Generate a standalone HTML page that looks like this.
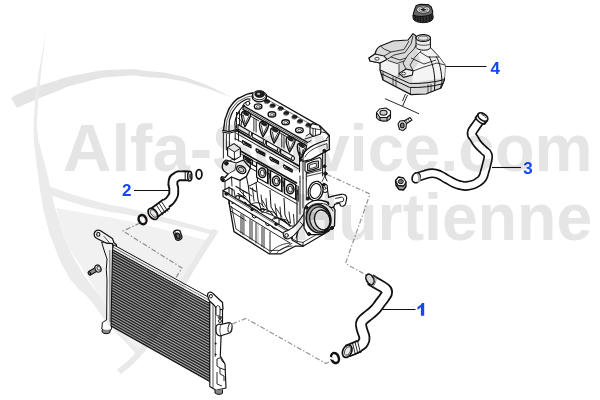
<!DOCTYPE html>
<html><head><meta charset="utf-8"><title>Cooling system diagram</title>
<style>html,body{margin:0;padding:0;background:#fff;}body{width:600px;height:400px;position:relative;overflow:hidden;font-family:"Liberation Sans",sans-serif;}</style>
</head><body>
<svg width="600" height="400" viewBox="0 0 600 400" style="position:absolute;left:0;top:0">
<g fill="none" stroke="#969696" stroke-width="1.2" stroke-dasharray="5 2 1.5 2">
<path d="M140,223 L123,231 L182,268 L175,279"/>
<path d="M232,324 L246,318.5 L326,363.5 L331,361"/>
<path d="M327,174.5 L370,194 L345.5,263.5 L366,275"/>
</g>
<g id="radiator" stroke-linejoin="round">
<path d="M101.6,242 L104,250 L107,259 L106.3,269.5 L107,280 L106.6,320 L102.4,322.5 L101.8,329 L105,331 L111,330 L112,326 L113,249 L113.6,243 Z" fill="#fff" stroke="#111" stroke-width="1"/>
<path d="M109.8,250 L110,322" stroke="#111" stroke-width="0.6" fill="none"/>
<path d="M94.3,235.6 C93.4,231.6 97,229 100.2,230.5 L112.4,238.4 L114,242.8 L116.4,244.8 L116.4,247 L113,249 L112.6,243.6 L106.5,243.2 L97.4,238.8 C95.5,237.8 94.6,236.8 94.3,235.6 Z" fill="#fff" stroke="#111" stroke-width="1.2"/>
<ellipse cx="98.3" cy="234.4" rx="1.6" ry="1.9" fill="#fff" stroke="#111" stroke-width="1.1"/>
<path d="M103.8,236.2 L109.4,242.6 M106.5,243.2 L112.6,243.6" stroke="#111" stroke-width="0.7" fill="none"/>
<path d="M102.2,329.5 L102.2,332.3 C104,334 108,334.3 110,332.5 L110,330" fill="#888" stroke="#111" stroke-width="1"/>
<clipPath id="corecp"><path d="M112.5,249.5 L209.5,303.0 L209.8,381.5 L111.0,326.0 Z"/></clipPath>
<path d="M112.5,249.5 L209.5,303.0 L209.8,381.5 L111.0,326.0 Z" fill="#939393"/>
<g clip-path="url(#corecp)" stroke-linecap="butt">
<path d="M112.5,249.50 L209.5,303.00" stroke="#262626" stroke-width="1.4"/>
<path d="M112.5,250.87 L209.5,304.40" stroke="#bdbdbd" stroke-width="0.6"/>
<path d="M112.4,252.23 L209.5,305.80" stroke="#262626" stroke-width="1.4"/>
<path d="M112.4,253.60 L209.5,307.21" stroke="#d0d0d0" stroke-width="0.6"/>
<path d="M112.4,254.96 L209.5,308.61" stroke="#262626" stroke-width="1.4"/>
<path d="M112.4,256.33 L209.5,310.01" stroke="#bdbdbd" stroke-width="0.6"/>
<path d="M112.3,257.70 L209.5,311.41" stroke="#262626" stroke-width="1.4"/>
<path d="M112.3,259.06 L209.5,312.81" stroke="#bdbdbd" stroke-width="0.6"/>
<path d="M112.3,260.43 L209.5,314.21" stroke="#262626" stroke-width="1.4"/>
<path d="M112.3,261.79 L209.5,315.62" stroke="#bdbdbd" stroke-width="0.6"/>
<path d="M112.2,263.16 L209.6,317.02" stroke="#262626" stroke-width="1.4"/>
<path d="M112.2,264.53 L209.6,318.42" stroke="#d0d0d0" stroke-width="0.6"/>
<path d="M112.2,265.89 L209.6,319.82" stroke="#262626" stroke-width="1.4"/>
<path d="M112.2,267.26 L209.6,321.22" stroke="#bdbdbd" stroke-width="0.6"/>
<path d="M112.1,268.62 L209.6,322.62" stroke="#262626" stroke-width="1.4"/>
<path d="M112.1,269.99 L209.6,324.03" stroke="#bdbdbd" stroke-width="0.6"/>
<path d="M112.1,271.36 L209.6,325.43" stroke="#262626" stroke-width="1.4"/>
<path d="M112.0,272.72 L209.6,326.83" stroke="#bdbdbd" stroke-width="0.6"/>
<path d="M112.0,274.09 L209.6,328.23" stroke="#262626" stroke-width="1.4"/>
<path d="M112.0,275.46 L209.6,329.63" stroke="#d0d0d0" stroke-width="0.6"/>
<path d="M112.0,276.82 L209.6,331.04" stroke="#262626" stroke-width="1.4"/>
<path d="M111.9,278.19 L209.6,332.44" stroke="#bdbdbd" stroke-width="0.6"/>
<path d="M111.9,279.55 L209.6,333.84" stroke="#262626" stroke-width="1.4"/>
<path d="M111.9,280.92 L209.6,335.24" stroke="#bdbdbd" stroke-width="0.6"/>
<path d="M111.9,282.29 L209.6,336.64" stroke="#262626" stroke-width="1.4"/>
<path d="M111.8,283.65 L209.6,338.04" stroke="#bdbdbd" stroke-width="0.6"/>
<path d="M111.8,285.02 L209.6,339.45" stroke="#262626" stroke-width="1.4"/>
<path d="M111.8,286.38 L209.6,340.85" stroke="#d0d0d0" stroke-width="0.6"/>
<path d="M111.8,287.75 L209.7,342.25" stroke="#262626" stroke-width="1.4"/>
<path d="M111.7,289.12 L209.7,343.65" stroke="#bdbdbd" stroke-width="0.6"/>
<path d="M111.7,290.48 L209.7,345.05" stroke="#262626" stroke-width="1.4"/>
<path d="M111.7,291.85 L209.7,346.46" stroke="#bdbdbd" stroke-width="0.6"/>
<path d="M111.6,293.21 L209.7,347.86" stroke="#262626" stroke-width="1.4"/>
<path d="M111.6,294.58 L209.7,349.26" stroke="#bdbdbd" stroke-width="0.6"/>
<path d="M111.6,295.95 L209.7,350.66" stroke="#262626" stroke-width="1.4"/>
<path d="M111.6,297.31 L209.7,352.06" stroke="#d0d0d0" stroke-width="0.6"/>
<path d="M111.5,298.68 L209.7,353.46" stroke="#262626" stroke-width="1.4"/>
<path d="M111.5,300.04 L209.7,354.87" stroke="#bdbdbd" stroke-width="0.6"/>
<path d="M111.5,301.41 L209.7,356.27" stroke="#262626" stroke-width="1.4"/>
<path d="M111.5,302.78 L209.7,357.67" stroke="#bdbdbd" stroke-width="0.6"/>
<path d="M111.4,304.14 L209.7,359.07" stroke="#262626" stroke-width="1.4"/>
<path d="M111.4,305.51 L209.7,360.47" stroke="#bdbdbd" stroke-width="0.6"/>
<path d="M111.4,306.88 L209.7,361.88" stroke="#262626" stroke-width="1.4"/>
<path d="M111.3,308.24 L209.7,363.28" stroke="#d0d0d0" stroke-width="0.6"/>
<path d="M111.3,309.61 L209.7,364.68" stroke="#262626" stroke-width="1.4"/>
<path d="M111.3,310.97 L209.7,366.08" stroke="#bdbdbd" stroke-width="0.6"/>
<path d="M111.3,312.34 L209.7,367.48" stroke="#262626" stroke-width="1.4"/>
<path d="M111.2,313.71 L209.8,368.88" stroke="#bdbdbd" stroke-width="0.6"/>
<path d="M111.2,315.07 L209.8,370.29" stroke="#262626" stroke-width="1.4"/>
<path d="M111.2,316.44 L209.8,371.69" stroke="#bdbdbd" stroke-width="0.6"/>
<path d="M111.2,317.80 L209.8,373.09" stroke="#262626" stroke-width="1.4"/>
<path d="M111.1,319.17 L209.8,374.49" stroke="#d0d0d0" stroke-width="0.6"/>
<path d="M111.1,320.54 L209.8,375.89" stroke="#262626" stroke-width="1.4"/>
<path d="M111.1,321.90 L209.8,377.29" stroke="#bdbdbd" stroke-width="0.6"/>
<path d="M111.1,323.27 L209.8,378.70" stroke="#262626" stroke-width="1.4"/>
<path d="M111.0,324.63 L209.8,380.10" stroke="#bdbdbd" stroke-width="0.6"/>
<path d="M111.0,326.00 L209.8,381.50" stroke="#262626" stroke-width="1.4"/>
<path d="M111.0,327.37 L209.8,382.90" stroke="#bdbdbd" stroke-width="0.6"/>
</g>
<path d="M112.5,249.5 L209.5,303.0 L209.8,381.5 L111.0,326.0 Z" fill="none" stroke="#111" stroke-width="1.1"/>
<path d="M113.5,244.8 L211,298.5 L209.6,303.2 L112.5,249.6 Z" fill="#fff" stroke="#111" stroke-width="1"/>
<path d="M113.2,247.2 L210.2,300.8" stroke="#111" stroke-width="0.6"/>
<path d="M209.8,302.5 L211,298 L222.5,304.5 L222.5,322 L221,338 L220.3,356 L225,364 L226,388 L216,390.3 L209.8,386.5 Z" fill="#fff" stroke="#111" stroke-width="1.15"/>
<path d="M213,304.5 L213,388 M215.4,306 L215.2,357" stroke="#111" stroke-width="0.7" fill="none"/>
<path d="M207.6,296 C207,292 211,291 213,293.5 L222.5,302.5 L223,309 L218,310.5 L214,305 L209.5,301 Z" fill="#fff" stroke="#111" stroke-width="1.2"/>
<ellipse cx="210.9" cy="296.2" rx="1.5" ry="1.8" fill="#fff" stroke="#111" stroke-width="1"/>
<path d="M216,308 C216,305 220,305 220,308 L220,314 C220,316.5 216,316.5 216,314 Z" fill="#fff" stroke="#111" stroke-width="0.9"/>
<circle cx="220" cy="317.5" r="1.5" fill="#555" stroke="#111" stroke-width="0.7"/>
<path d="M216,327.5 C216,324.5 219,323.5 221,324.5 L228.5,322.6 C232.5,322.6 233,331.5 229.5,333 L221,335.8 C217.5,336.5 216,333 216,330.5 Z" fill="#fff" stroke="#111" stroke-width="1.2"/>
<ellipse cx="230" cy="327.8" rx="1.9" ry="4.7" transform="rotate(8 230 327.8)" fill="#fff" stroke="#111" stroke-width="0.9"/>
<path d="M221,324.5 C219.5,327 219.5,333 221,335.8" fill="none" stroke="#111" stroke-width="0.7"/>
<circle cx="220" cy="321" r="1.5" fill="#fff" stroke="#111" stroke-width="0.9"/>
<circle cx="215.6" cy="343.6" r="1" fill="#111"/><circle cx="215.6" cy="354.4" r="1" fill="#111"/>
<path d="M217,359 L220.5,357.5 L222,361 L225,364 M217,359 L217,366 L220,368 L220,374 L224,376 L224,381 M220,368 L225.5,370 M217,372 L217,384 L222,386" fill="none" stroke="#111" stroke-width="0.9"/>
<path d="M215,390 L215,393 C217,394.8 221,394.8 222.5,393.2 L222.5,389.5" fill="#888" stroke="#111" stroke-width="1"/>
<g stroke="#111" stroke-width="1.1" fill="#fff"><path d="M88.6,271.6 L95.6,267.6 L97.4,271 L90.4,275 Z" fill="#9a9a9a"/><ellipse cx="89.4" cy="273.3" rx="1.1" ry="1.9" transform="rotate(-28 89.4 273.3)" fill="#777"/><ellipse cx="98" cy="268.6" rx="2.9" ry="3.7" transform="rotate(-28 98 268.6)" fill="#ddd"/><ellipse cx="98.8" cy="268.2" rx="1.5" ry="2.2" transform="rotate(-28 98.8 268.2)" fill="#fff" stroke-width="0.7"/></g>
</g>
<g id="engine" stroke="#111" stroke-linejoin="round" stroke-linecap="round" fill="none">
<path d="M223,131 L225,115 L231,105 L240,97 L252,93 L256,90.5 L263,90.5 L266.5,95 L320,125 L329.5,135 L329.5,150 L326,153 L326,178 L328,186 L328.6,197 L340,195 L345,198 L345,206 L337,210 L333,225 L329,231 L303,246 L295,246 L281,254 L269,254 L234,232 L229,206 L223,196 L223,190 L221,178 L221,165 L223,150 Z" fill="#fff" stroke="none"/>
<path d="M223.6,130.5 C223.9,128.3 223.5,128.8 224.4,124.0 C225.3,119.2 223.6,122.7 226.3,116.0 C229.0,109.3 227.1,110.4 232.5,103.8 C237.9,97.2 235.8,99.9 242.5,96.3 C249.2,92.7 249.2,94.1 252.5,93.0" stroke-width="1.4"/>
<path d="M226.0,130.6 C226.2,128.4 225.8,128.5 226.6,124.0 C227.4,119.5 225.8,123.0 228.3,117.0 C230.8,111.0 229.1,112.0 234.0,106.0 C238.9,100.0 237.0,102.3 243.0,99.0 C249.0,95.7 249.0,97.0 252.0,96.0" stroke-width="0.7"/>
<path d="M229.0,130.6 C229.1,128.4 228.8,128.4 229.3,124.0 C229.8,119.6 228.3,123.0 230.4,117.5 C232.5,112.0 231.1,113.2 235.6,107.5 C240.1,101.8 239.2,103.3 244.0,100.5 C248.8,97.7 248.0,99.5 250.0,99.0" stroke-width="1.2"/>
<path d="M235.2,128.0 C235.3,125.0 234.0,125.0 235.6,119.0 C237.2,113.0 237.0,114.6 240.0,110.0 C243.0,105.4 243.1,106.9 244.6,105.3" stroke-width="1.1"/>
<path d="M222.5,130.3 L229,131.6 L238.5,129 M222.5,132 L229,133.3 L238.5,130.7" stroke-width="1.1"/>
<path d="M223.4,133 L223.4,158 M229.4,134 L229.4,146 M226.4,134 L226.4,150" stroke-width="0.9"/>
<path d="M235.2,128 L235.2,140 M238.5,128 L238.5,141" stroke-width="0.9"/>
<ellipse cx="259.4" cy="96.6" rx="7.3" ry="5.3" fill="#fff" stroke-width="1.2"/>
<ellipse cx="259.4" cy="95.2" rx="6.8" ry="4.6" fill="#fff" stroke-width="0.9"/>
<ellipse cx="259.7" cy="94.2" rx="4.8" ry="3.2" fill="#1e1e1e" stroke-width="0.8"/>
<ellipse cx="258.6" cy="93.8" rx="1.7" ry="1.1" fill="#bbb" stroke="none"/>
<path d="M252.5,93 L253,97 M266.3,96 L266.5,99" stroke-width="0.8"/>
<path d="M266.0,95.2 L320.5,126.4" stroke-width="1.3" stroke="#111"/>
<path d="M265.0,98.2 L319.0,129.1" stroke-width="0.6" stroke="#111"/>
<path d="M243.1,105.6 L307.5,142.4" stroke-width="1.3" stroke="#111"/>
<path d="M243.1,107.4 L307.1,144.0" stroke-width="0.7" stroke="#111"/>
<path d="M243.1,109.4 L306.5,145.7" stroke-width="1.4" stroke="#111"/>
<path d="M243.1,105.6 L244.4,103 L250,100.6 M243.1,105.6 L243.1,109.4" stroke-width="1"/>
<circle cx="247.8" cy="103.4" r="2" fill="#fff" stroke-width="1"/>
<ellipse cx="258.1" cy="106.5" rx="3.8" ry="2.6" fill="#fff" stroke-width="1.4"/>
<ellipse cx="258.3" cy="106.8" rx="2" ry="1.25" fill="#f4f4f4" stroke-width="0.6"/>
<ellipse cx="271.9" cy="114.4" rx="3.8" ry="2.6" fill="#fff" stroke-width="1.4"/>
<ellipse cx="272.1" cy="114.7" rx="2" ry="1.25" fill="#f4f4f4" stroke-width="0.6"/>
<ellipse cx="285.6" cy="122.3" rx="3.8" ry="2.6" fill="#fff" stroke-width="1.4"/>
<ellipse cx="285.8" cy="122.6" rx="2" ry="1.25" fill="#f4f4f4" stroke-width="0.6"/>
<ellipse cx="299.4" cy="130.2" rx="3.8" ry="2.6" fill="#fff" stroke-width="1.4"/>
<ellipse cx="299.6" cy="130.5" rx="2" ry="1.25" fill="#f4f4f4" stroke-width="0.6"/>
<ellipse cx="267" cy="101.2" rx="2.4" ry="1.6" fill="#2a2a2a" stroke-width="0.7"/>
<ellipse cx="266.7" cy="102.10000000000001" rx="2.6" ry="1.5" stroke-width="0.6"/>
<ellipse cx="272.6" cy="105.4" rx="2.4" ry="1.6" fill="#2a2a2a" stroke-width="0.7"/>
<ellipse cx="272.3" cy="106.30000000000001" rx="2.6" ry="1.5" stroke-width="0.6"/>
<ellipse cx="280.7" cy="108.2" rx="2.4" ry="1.6" fill="#2a2a2a" stroke-width="0.7"/>
<ellipse cx="280.4" cy="109.10000000000001" rx="2.6" ry="1.5" stroke-width="0.6"/>
<ellipse cx="286.3" cy="112.9" rx="2.4" ry="1.6" fill="#2a2a2a" stroke-width="0.7"/>
<ellipse cx="286.0" cy="113.80000000000001" rx="2.6" ry="1.5" stroke-width="0.6"/>
<ellipse cx="294.6" cy="116.7" rx="2.4" ry="1.6" fill="#2a2a2a" stroke-width="0.7"/>
<ellipse cx="294.3" cy="117.60000000000001" rx="2.6" ry="1.5" stroke-width="0.6"/>
<ellipse cx="300" cy="121" rx="2.4" ry="1.6" fill="#2a2a2a" stroke-width="0.7"/>
<ellipse cx="299.7" cy="121.9" rx="2.6" ry="1.5" stroke-width="0.6"/>
<ellipse cx="308.4" cy="124.8" rx="2.4" ry="1.6" fill="#2a2a2a" stroke-width="0.7"/>
<ellipse cx="308.09999999999997" cy="125.7" rx="2.6" ry="1.5" stroke-width="0.6"/>
<path d="M310,127.5 L312,123.6 L319,125.2 L321,129 L320.5,134 L313,136.5 L310,133.5 Z" fill="#fff" stroke-width="1.1"/>
<path d="M313,128.5 L313,136.5 M313,128.5 L320.8,129.8 M310,127.5 L313,128.5 M315.5,129 L315.5,135.6" stroke-width="0.8"/>
<path d="M306,136 L310,133.5 M305,139 L313,136.5 M321,132 L325,132.5 L329,136" stroke-width="0.9"/>
<path d="M241.6,113.6 C242.0,110.2 248.0,110.4 250.6,114.2 C251.0,117.5 247.5,122.5 245.0,126.6 C243.0,122.5 241.2,117.0 241.6,113.6 Z" fill="#fff" stroke-width="1.4"/>
<path d="M243.4,115.5 C244.0,118.0 244.6,121.5 245.2,124.0 C246.4,121.0 248.0,118.3 248.9,116.2" stroke-width="0.8"/>
<ellipse cx="246.1" cy="113.7" rx="3.2" ry="1.9" fill="#222" stroke="none" transform="rotate(24 246.1 113.7)"/>
<path d="M259.6,123.9 C260.0,120.5 266.0,120.7 268.6,124.5 C269.0,127.8 265.5,132.8 263.0,136.9 C261.0,132.8 259.2,127.3 259.6,123.9 Z" fill="#fff" stroke-width="1.4"/>
<path d="M261.4,125.8 C262.0,128.3 262.6,131.8 263.2,134.3 C264.4,131.3 266.0,128.6 266.9,126.5" stroke-width="0.8"/>
<ellipse cx="264.1" cy="124.0" rx="3.2" ry="1.9" fill="#222" stroke="none" transform="rotate(24 264.1 124.0)"/>
<path d="M270.6,130.2 C271.0,126.8 277.0,127.0 279.6,130.8 C280.0,134.1 276.5,139.1 274.0,143.2 C272.0,139.1 270.2,133.6 270.6,130.2 Z" fill="#fff" stroke-width="1.4"/>
<path d="M272.4,132.1 C273.0,134.6 273.6,138.1 274.2,140.6 C275.4,137.6 277.0,134.9 277.9,132.8" stroke-width="0.8"/>
<ellipse cx="275.1" cy="130.3" rx="3.2" ry="1.9" fill="#222" stroke="none" transform="rotate(24 275.1 130.3)"/>
<path d="M286.2,139.1 C286.6,135.7 292.6,135.9 295.2,139.7 C295.6,143.0 292.1,148.0 289.6,152.1 C287.6,148.0 285.8,142.5 286.2,139.1 Z" fill="#fff" stroke-width="1.4"/>
<path d="M288.0,141.0 C288.6,143.5 289.2,147.0 289.8,149.5 C291.0,146.5 292.6,143.8 293.5,141.7" stroke-width="0.8"/>
<ellipse cx="290.7" cy="139.2" rx="3.2" ry="1.9" fill="#222" stroke="none" transform="rotate(24 290.7 139.2)"/>
<path d="M297.4,145.5 C297.8,142.1 303.8,142.3 306.4,146.1 C306.8,149.4 303.3,154.4 300.8,158.5 C298.8,154.4 297.0,148.9 297.4,145.5 Z" fill="#fff" stroke-width="1.4"/>
<path d="M299.2,147.4 C299.8,149.9 300.4,153.4 301.0,155.9 C302.2,152.9 303.8,150.2 304.7,148.1" stroke-width="0.8"/>
<ellipse cx="301.9" cy="145.6" rx="3.2" ry="1.9" fill="#222" stroke="none" transform="rotate(24 301.9 145.6)"/>
<path d="M236.5,112.5 L242.5,115.9" stroke-width="0.9" stroke="#111"/>
<path d="M253.9,118.1 L253.9,131.1 M256.1,119.3 L256.1,132.1" stroke-width="0.9"/>
<path d="M250.9,116.3 L258.9,120.9" stroke-width="0.9"/>
<path d="M281.8,134.0 L281.8,147.0 M284.0,135.2 L284.0,148.0" stroke-width="0.9"/>
<path d="M278.8,132.2 L286.8,136.8" stroke-width="0.9"/>
<path d="M236.5,112.5 L236.5,128 M239.5,111 L239.5,125.5" stroke-width="0.9"/>
<path d="M238,118 L241.5,121 L241,126 L244,129" stroke-width="1"/>
<path d="M238.0,124.6 L250.4,131.7 L250.4,136.1 L238.0,129.0 Z" fill="#fff" stroke-width="1.1"/>
<ellipse cx="250.4" cy="133.9" rx="1.5" ry="2.3" fill="#fff" stroke-width="1"/>
<path d="M252.2,132.7 L264.6,139.8 L264.6,144.2 L252.2,137.1 Z" fill="#fff" stroke-width="1.1"/>
<ellipse cx="264.6" cy="142.0" rx="1.5" ry="2.3" fill="#fff" stroke-width="1"/>
<path d="M266.4,140.8 L278.8,147.9 L278.8,152.3 L266.4,145.2 Z" fill="#fff" stroke-width="1.1"/>
<ellipse cx="278.8" cy="150.1" rx="1.5" ry="2.3" fill="#fff" stroke-width="1"/>
<path d="M280.6,149.0 L293.0,156.1 L293.0,160.5 L280.6,153.4 Z" fill="#fff" stroke-width="1.1"/>
<ellipse cx="293.0" cy="158.3" rx="1.5" ry="2.3" fill="#fff" stroke-width="1"/>
<path d="M237.0,130.6 L299.0,166.1" stroke-width="1.7" stroke="#111"/>
<path d="M236.5,133.4 L298.5,168.9" stroke-width="0.9" stroke="#111"/>
<path d="M242.5,140.6 L251.0,145.2 L251.0,147.8 L245.5,145.0 C243.0,144.6 241.7,142.1 242.5,140.6 Z" fill="#fff" stroke-width="1.2"/>
<path d="M244.5,142.9 L250.0,145.9" stroke-width="1.5"/>
<path d="M256.2,148.7 L264.8,153.3 L264.8,155.9 L259.2,153.1 C256.8,152.7 255.4,150.2 256.2,148.7 Z" fill="#fff" stroke-width="1.2"/>
<path d="M258.2,151.0 L263.8,154.0" stroke-width="1.5"/>
<path d="M270.0,156.8 L278.5,161.4 L278.5,164.0 L273.0,161.2 C270.5,160.8 269.2,158.3 270.0,156.8 Z" fill="#fff" stroke-width="1.2"/>
<path d="M272.0,159.1 L277.5,162.1" stroke-width="1.5"/>
<path d="M283.8,164.9 L292.2,169.5 L292.2,172.1 L286.8,169.3 C284.2,168.9 282.9,166.4 283.8,164.9 Z" fill="#fff" stroke-width="1.2"/>
<path d="M285.8,167.2 L291.2,170.2" stroke-width="1.5"/>
<path d="M235.0,138.5 L241.5,142.2" stroke-width="1.0" stroke="#111"/>
<path d="M234.5,147.5 L296.5,183.0" stroke-width="1.6" stroke="#111"/>
<path d="M234.5,150.2 L296.5,185.7" stroke-width="0.8" stroke="#111"/>
<path d="M243.5,155.2 L252.5,160.3 L252.5,163.6 L243.5,158.5 Z" fill="#fff" stroke-width="1.1"/>
<path d="M245.1,157.5 L250.9,160.8" stroke-width="1.6"/>
<path d="M257.2,163.3 L266.2,168.4 L266.2,171.7 L257.2,166.6 Z" fill="#fff" stroke-width="1.1"/>
<path d="M258.9,165.6 L264.6,168.9" stroke-width="1.6"/>
<path d="M271.0,171.4 L280.0,176.5 L280.0,179.8 L271.0,174.7 Z" fill="#fff" stroke-width="1.1"/>
<path d="M272.6,173.7 L278.4,177.0" stroke-width="1.6"/>
<path d="M284.8,179.5 L293.8,184.6 L293.8,187.9 L284.8,182.8 Z" fill="#fff" stroke-width="1.1"/>
<path d="M286.4,181.8 L292.1,185.1" stroke-width="1.6"/>
<path d="M247.0,161.5 L293.0,187.8" stroke-width="1.3" stroke="#111"/>
<path d="M320.5,126.4 L329.2,135.2 L329.4,149.4 L311,159.6 L303,161.4" stroke-width="1.4"/>
<path d="M302.5,156 C304.5,149.5 312,144.6 327,140.2" stroke-width="1.2"/>
<path d="M305,157 C307.5,151.5 314,147.6 327,143.6 L327.2,148.4" stroke-width="0.8"/>
<path d="M307.5,142.6 L311,140.5 M326.4,139 L329.2,135.2" stroke-width="0.9"/>
<path d="M303,150 L303,178 M306.3,160.5 L306.3,180 M299.5,152 L299.5,172" stroke-width="1"/>
<circle cx="324.4" cy="150.8" r="1.5" fill="#222"/><circle cx="300.8" cy="160" r="1.2" fill="#333"/>
<path d="M325.2,152 L325.2,177 L327,181 M322.6,153.4 L322.6,176" stroke-width="1"/>
<circle cx="324.5" cy="166.3" r="1.4" fill="#222"/><circle cx="325.4" cy="173.6" r="1.7" fill="#222"/>
<path d="M305,162.4 L319.8,157.6 L321.2,159.4 L321,168.8 L307,172.6 L305,170.6 Z" fill="#fff" stroke-width="1.1"/>
<path d="M307.6,164.2 C311,162 315.5,160.8 318.4,161 L318.4,167.4 C315,169.2 311,170.4 307.6,170.6 Z" fill="#cfcfcf" stroke-width="1.1"/>
<path d="M309.8,165.2 C312,164 314.6,163.3 316.4,163.4 L316.4,166.6 C314.4,167.6 312,168.4 309.8,168.6 Z" fill="#fff" stroke-width="0.8"/>
<path d="M306.3,174 L321,170.4 M306.3,176.4 L322.6,172.6" stroke-width="0.8"/>
<path d="M322,186 C322,183.6 326,183.4 327.2,185.6 L327.6,190.6 C327,193 323.4,193 322.6,191 Z" fill="#fff" stroke-width="1.1"/>
<circle cx="324.6" cy="188.2" r="1.3" stroke-width="0.8"/>
<path d="M325.4,175 L322,181.5" stroke-width="0.8"/>
<path d="M327.6,190.6 L328.6,197" stroke-width="1.1"/>
<path d="M227.6,147.4 L234,143.6 L240.4,148.4 L240.4,156.4 L234.4,160 L227.6,155.6 Z" fill="#fff" stroke-width="1.1"/>
<path d="M227.6,147.4 L234.4,152 L240.4,148.4 M234.4,152 L234.4,160" stroke-width="0.9"/>
<path d="M226,160 C222,162 221,168 224,171 L228,174 L225,177.5 L222,176.6 C219.6,178.6 221.6,182.4 225,181.2 L231.5,177 L240,180.4 L246.4,176.4 L250.4,168 L243.4,160 L236.2,163 Z" fill="#fff" stroke-width="1.3"/>
<path d="M224.5,163 L235,158.5 M228,174 L235,170 L236,164" stroke-width="0.8"/>
<ellipse cx="241.2" cy="169.6" rx="4.9" ry="3.5" transform="rotate(30 241.2 169.6)" fill="#fff" stroke-width="1.4"/>
<ellipse cx="241.2" cy="169.6" rx="3" ry="2" transform="rotate(30 241.2 169.6)" fill="#e4e4e4" stroke-width="0.8"/>
<circle cx="226.4" cy="163.4" r="1.8" fill="#222"/><circle cx="222.9" cy="179.4" r="1.5" fill="#222"/>
<path d="M250.4,168 L257.4,172 L257.4,182 L248.4,186.4 M246.4,176.4 L248.4,186.4 M250.4,168 L250.4,162 L246,159.4" stroke-width="1"/>
<path d="M231.5,177 L232,186 M240,180.4 L240,190.5 M225,181.2 L225,189" stroke-width="0.9"/>
<path d="M256.6,162.4 L267.6,168.4 L267.6,183.4 L256.6,177.2 Z" fill="#fff" stroke-width="1.2"/>
<ellipse cx="262.2" cy="172.8" rx="3.7" ry="4.8" fill="#cfcfcf" stroke-width="1.5" transform="rotate(-8 262.2 172.8)"/>
<ellipse cx="262.4" cy="172.9" rx="2" ry="2.9" fill="#fff" stroke-width="0.8" transform="rotate(-8 262.4 172.9)"/>
<path d="M268.8,169.2 L268.8,184.2 M270.3,170.0 L270.3,185.0" stroke-width="0.9"/>
<rect x="268.9" y="173.5" width="1.4" height="5" fill="#333" stroke="none"/>
<path d="M270.6,170.5 L281.6,176.5 L281.6,191.5 L270.6,185.3 Z" fill="#fff" stroke-width="1.2"/>
<ellipse cx="276.2" cy="180.9" rx="3.7" ry="4.8" fill="#cfcfcf" stroke-width="1.5" transform="rotate(-8 276.2 180.9)"/>
<ellipse cx="276.4" cy="181.0" rx="2" ry="2.9" fill="#fff" stroke-width="0.8" transform="rotate(-8 276.4 181.0)"/>
<path d="M282.8,177.3 L282.8,192.3 M284.3,178.1 L284.3,193.1" stroke-width="0.9"/>
<rect x="282.9" y="181.6" width="1.4" height="5" fill="#333" stroke="none"/>
<path d="M284.6,178.6 L295.6,184.6 L295.6,199.6 L284.6,193.4 Z" fill="#fff" stroke-width="1.2"/>
<ellipse cx="290.2" cy="189.0" rx="3.7" ry="4.8" fill="#cfcfcf" stroke-width="1.5" transform="rotate(-8 290.2 189.0)"/>
<ellipse cx="290.4" cy="189.1" rx="2" ry="2.9" fill="#fff" stroke-width="0.8" transform="rotate(-8 290.4 189.1)"/>
<path d="M296.8,185.4 L296.8,200.4 M298.3,186.2 L298.3,201.2" stroke-width="0.9"/>
<rect x="296.9" y="189.7" width="1.4" height="5" fill="#333" stroke="none"/>
<path d="M257.6,181.4 L297.6,204.3" stroke-width="0.9" stroke="#111"/>
<path d="M229,187 L229,204 M232,188.6 L232,200" stroke-width="1"/>
<path d="M248.4,186.4 L250,203 M256,183 L258,200 L262,212 M270,190.4 L271,207 L278,218 M284,198.4 L285,215 L290,226 M297,205 L297,228" stroke-width="1"/>
<path d="M236,196 C242,195 247,199 250,203 C254,207 259,208 262,212" stroke-width="1.1"/>
<path d="M262,212 C266,212 272,215 278,218 C282,220 286,222 290,226" stroke-width="1.1"/>
<path d="M240,200 L258,211 L258,215 L274,224 M246,192 L252,196 M240,191 L246,197 M262,200 L268,210 M276,208 L282,217" stroke-width="0.9"/>
<path d="M252,204 C256,201 262,203 264,207 M266,212 C270,210 275,212 277,215.5 M280,220 C284,218 288,220 290,223" stroke-width="0.9"/>
<circle cx="237.6" cy="197.6" r="1.9" fill="#fff" stroke-width="1.1"/><circle cx="262.6" cy="210" r="1.7" fill="#fff" stroke-width="1"/><circle cx="245" cy="203.4" r="1.2" fill="#333"/>
<path d="M272,221 C272,217 277,216 279,219 L279,228 C277,230 273,229 272,227 Z" fill="#fff" stroke-width="1"/>
<path d="M290,226 C294,225 298,228 298,232 L296,238" stroke-width="1"/>
<path d="M234,190 L236,203 M243,190.5 L244,199 M252.5,188 L254,201 M261,195 L262.5,206 M266,198.5 L267,209 M275,204 L276.5,215 M280,207 L281,218 M289,212 L290.5,223 M293.5,214.5 L294.5,228" stroke-width="0.9"/>
<path d="M232,203.5 C236,200.5 242,201.5 246,206 M246,206 C250,203.6 256,205 259.4,210 M259.4,210 C263.4,207.8 270,210 272.6,214.6 M274,219 C278,216.6 284,218.6 287,223" stroke-width="1.1"/>
<path d="M236,186.5 L247,193 M250,188 L256,191.6 M238,193.6 L244,197.2" stroke-width="1.2"/>
<ellipse cx="254.6" cy="214.6" rx="2.6" ry="3.4" fill="#fff" stroke-width="1"/><ellipse cx="268" cy="222.6" rx="2.4" ry="3.2" fill="#fff" stroke-width="1"/>
<path d="M297,190 L297,204 M300,176 L300,182" stroke-width="0.9"/>
<path d="M223,190.5 L223,196.5 L292,238.5 L292,232.5 Z" fill="#fff" stroke-width="1.2"/>
<path d="M223,190.5 L229,187.4 L233,190" stroke-width="1.1"/>
<circle cx="226.4" cy="193.8" r="1.5" fill="#222"/><circle cx="252" cy="209.6" r="1.2" fill="#222"/><circle cx="276" cy="224.2" r="1.2" fill="#222"/>
<path d="M224.5,193 L291,233.6" stroke-width="0.6"/>
<path d="M229,200.4 L229.6,206 L234,231.6 L269,253.8 L281,253.8 L295,246.2 L303,246.2" stroke-width="1.3"/>
<path d="M231.6,206.6 L236,229 L269,250.4 L280,250.4 L292,243.4" stroke-width="0.8"/>
<path d="M229.6,206 L290,243 M230.6,211 L246,220.6" stroke-width="0.9"/>
<path d="M241,214 L241,233 M243,215 L243,234.5 M250,219.5 L250,239 M252,221 L252,240 M256,223 L256,243 M262,227 L262,246.5 M264,228 L264,248 M270,232 L270,252" stroke-width="0.9"/>
<path d="M244.5,216.6 L244.5,235.4 M258,224.4 L258,244" stroke-width="0.7" stroke="#888"/>
<path d="M269,253.8 C274,248 280,244 290,243 M276,253.8 C279,249.5 284,247 292,246" stroke-width="0.8"/>
<path d="M292,232.5 L292,240 L303,246.2 L329,231 L333,225 L334,212" stroke-width="1.2"/>
<path d="M292,238.5 L297,241.4 L303,242.4 L327,228.4" stroke-width="0.8"/>
<path d="M303,242.4 L303,246.2 M297,228 L297,241.4" stroke-width="0.9"/>
<path d="M284,232 C282,235 284,239 288,239 C292,238 296,234 302,226 L312,210 L309,207 L298,222 C294,228 290,230 284,232 Z" fill="#fff" stroke-width="1.2"/>
<circle cx="286.6" cy="235.4" r="1.8" fill="#fff" stroke-width="1"/>
<path d="M300,222 L304,226" stroke-width="0.8"/>
<ellipse cx="315.6" cy="191" rx="7.3" ry="9.8" transform="rotate(14 315.6 191)" fill="#fff" stroke-width="1.3"/><ellipse cx="315.6" cy="191" rx="5.4" ry="7.6" transform="rotate(14 315.6 191)" stroke-width="1.1"/>
<circle cx="308" cy="198.6" r="1.5" fill="#222"/><circle cx="324" cy="184.6" r="1.4" fill="#222"/>
<path d="M303,178 L303,208 M306.3,180 L306.3,200 M300,182 L300,214" stroke-width="0.9"/>
<path d="M304,212 C304,204 312,199 322,200.5 C328,201.5 333,205 335,210 L334.5,226 L322,234.6 L308,234.6 L304,228 Z" fill="#fff" stroke-width="1.3"/>
<path d="M306,213 C307,206 314,202.5 322,203.5 C327,204 331,207 333,211" stroke-width="0.9"/>
<ellipse cx="318.6" cy="218.8" rx="12.2" ry="14.4" transform="rotate(-14 318.6 218.8)" fill="#a2a2a2" stroke-width="1.5"/>
<ellipse cx="320" cy="219.2" rx="10.2" ry="12.4" transform="rotate(-14 320 219.2)" fill="#d4d4d4" stroke-width="1.1"/>
<ellipse cx="322.2" cy="219.9" rx="7.6" ry="10" transform="rotate(-14 322.2 219.9)" fill="#efefef" stroke-width="1.3"/>
<circle cx="306.5" cy="207.6" r="1.5" fill="#222"/><circle cx="332" cy="228" r="1.5" fill="#222"/><circle cx="309" cy="234" r="1.5" fill="#222"/><circle cx="329" cy="203.4" r="1.3" fill="#222"/>
<path d="M328.4,197.4 L335,195.6 L341,194.4 C345,193.6 347.2,196 346.6,199 L345.6,203.6 C345,206 342,207 340.4,205.6 L339.6,203 L334.6,204.4 C334.6,207.6 331,208.6 329.6,206.4" fill="#fff" stroke-width="1.2"/>
<path d="M335.6,198.4 L341.6,197.2 C343.4,197 344,198.6 343.6,200 L343,201.4 L336,203" stroke-width="0.9"/>
</g>
<g id="tank" stroke-linejoin="round">
<g transform="translate(-0.7,0)">
<path d="M413.6,15 L413.8,18 C414,24.3 434,24.3 434,17.5 L433,12 Z" fill="#333" stroke="#111" stroke-width="1"/>
<path d="M415.5,9 L417,5.5 L421,4.2 L429,4.6 L432,7 L433.5,12 C433.5,17 414,18 414,14 Z" fill="#6a6a6a" stroke="#111" stroke-width="1.1"/>
<ellipse cx="424" cy="9.6" rx="6.8" ry="3.7" fill="#d4d4d4" stroke="#222" stroke-width="0.8"/>
<ellipse cx="424" cy="9.6" rx="4.2" ry="2.2" fill="#f0f0f0" stroke="#333" stroke-width="0.6"/>
<path d="M420.6,9.4 L424,7.9 L427.6,9.8 L424,11.3 Z" fill="#222"/>
<path d="M416,15.5 L416,20 M418.5,16.5 L418.5,21.5 M421,17 L421,22 M424,17.2 L424,22.4 M427,17 L427,22 M430,16.4 L430,21.2 M432,15.4 L432,19.6" stroke="#111" stroke-width="0.9"/>
</g>
<path d="M369,58 L375,54 C376,50 378,47 380.5,46 L393,41 L408,40 L413,33.6 L416,36 L416,38 C417,34.5 429.5,34.5 430.4,38 L430.4,48 L439,57 L445,65 L444.4,80 L441,88 L426,94 L411,94.6 L383,80 L380,70 L380,63 L370,61 Z" fill="#d9d9d9" stroke="#111" stroke-width="1.2"/>
<path d="M416,47 L430.4,48 L439,57 L445,65 L444.6,77.5 L412,83 L413,71 L420,60 Z" fill="#f4f4f4"/>
<path d="M381,62 L388,60 L398,64 L399,73 L394,77 L381,70 Z" fill="#f2f2f2"/>
<path d="M416,38 L416,47.5 C418,51 429,51 430.4,48 L430.4,38 Z" fill="#ececec" stroke="#111" stroke-width="1"/>
<ellipse cx="423.2" cy="38" rx="7.2" ry="3.4" fill="#f6f6f6" stroke="#111" stroke-width="1.1"/>
<ellipse cx="423.2" cy="38.2" rx="5" ry="2.1" fill="#e4e4e4" stroke="#111" stroke-width="0.6"/>
<path d="M416,43 C418,46 429,46 430.4,43.5" fill="none" stroke="#111" stroke-width="0.7"/>
<path d="M369,58 L375,54 L384,56 L387,59.4 L380,63 L370,61 Z" fill="#f0f0f0" stroke="#111" stroke-width="1.1"/>
<ellipse cx="377" cy="58.8" rx="2.2" ry="1.4" fill="#fff" stroke="#111" stroke-width="0.8"/>
<path d="M399,73.4 L406,69 L413,70.6 L412.4,75 L403.5,77.4 Z" fill="#f0f0f0" stroke="#111" stroke-width="1.1"/>
<ellipse cx="403.6" cy="73.6" rx="2" ry="1.3" fill="#fff" stroke="#111" stroke-width="0.8"/>
<g fill="none" stroke="#111" stroke-width="0.8"><path d="M384,56 L391,52 L404,49.5 L409,41"/><path d="M387,59.4 L394,55 L405,52.5 L411,44 L413,36"/><path d="M406,69 L403,63 L408,55 L414,49 L416,45"/><path d="M413,70.6 L410,65 L415,57 L421,51"/><path d="M380.5,46 L384,49 L391,52"/><path d="M388,60.5 L397,63.5 L404,61"/><path d="M391,57 L400,60 L406,58"/><path d="M411,58 L424,64 L436,60"/><path d="M420,52 L428,57 L439,57"/><path d="M413,71 L424,67 L437,63 L445,65"/></g>
<g fill="none" stroke="#111" stroke-width="1"><path d="M380.5,70 L409.5,83.4 C420,84 434,82.4 444.5,79.6"/><path d="M381.5,73.8 L409.5,87.4 C420,88 433,86.4 443.4,83.6"/><path d="M429.1,56.3 C432,62 434.4,70 434.9,82.5 L434.4,90.6"/><path d="M436.2,56.3 C439.7,62 441.8,72 441.9,82.5 L440.4,88.6"/></g>
<g fill="none" stroke="#111" stroke-width="0.7"><path d="M393,76.5 L393,85"/><path d="M396,78 L396,86.6"/><path d="M410.5,88 L410.5,94.4"/><path d="M428,84.5 L428,93"/><path d="M431,84 L431,92"/><path d="M399,77 L399,64"/><path d="M383,71.5 L383,80"/></g>
<g fill="none" stroke="#111" stroke-width="0.9"><path d="M385,98.7 L402.5,106.3 L419,113.8"/><path d="M407.5,95 L402.5,106.3"/><path d="M405.5,94 L402.5,101"/></g>
<g stroke="#111" stroke-width="1.1" fill="#fff"><path d="M376.5,113 L376.5,117.5 C379,122 388,122.5 390.5,118 L390.5,113.5 Z" fill="#bbb"/><path d="M376.5,112.5 L379.5,109 L386,108 L390.5,111 L390.5,114.5 L387,117.5 L380,117.5 Z"/><ellipse cx="383.5" cy="112.8" rx="3.6" ry="2.5" fill="#ccc"/><path d="M380,117.5 L380,121 M387,117.5 L387,121.4" /></g>
<g stroke="#111" stroke-width="1.1" fill="#fff"><path d="M404,121 L410,117.6 L412,120 L406,124 Z"/><path d="M406,119.7 L407.5,122.6 M408,118.6 L409.5,121.4" stroke-width="0.7"/><path d="M398,124 L400,121 L404,120.5 L406.5,123.5 L406,128 L403,130.6 L399.5,129.5 Z" fill="#ddd"/><ellipse cx="402.3" cy="125.4" rx="1.8" ry="2.4" fill="#888"/></g>
</g>
<path d="M482.9,115.9 C482.3,116.8 482.0,117.3 480.4,119.6 C478.8,121.9 478.6,122.0 476.4,125.2 C474.2,128.4 472.1,129.2 471.6,132.6 C471.1,136.0 472.8,135.9 474.5,139.0 C476.2,142.1 476.1,142.2 478.5,145.0 C480.9,147.8 481.6,147.9 484.0,150.4 C486.4,152.9 487.2,151.8 488.0,155.0 C488.8,158.2 487.9,158.8 487.0,163.0 C486.1,167.2 485.8,168.2 484.6,172.0 C483.5,175.8 484.0,175.5 482.4,178.0 C480.8,180.5 480.4,180.3 478.0,182.0 C475.6,183.7 476.0,183.6 473.0,184.6 C470.0,185.6 469.1,185.8 466.0,186.0 C462.9,186.2 463.2,185.8 460.5,185.2 C457.8,184.6 458.4,185.0 455.0,183.5 C451.6,182.0 450.9,181.3 447.0,179.2 C443.1,177.1 443.1,176.5 439.5,175.0 C435.9,173.5 436.1,173.3 432.5,173.2 C428.9,173.1 429.2,173.4 425.0,174.6 C420.8,175.8 417.9,177.0 415.5,177.8" fill="none" stroke="#111" stroke-width="9.8" stroke-linecap="butt" stroke-linejoin="round"/>
<path d="M482.9,115.9 C482.3,116.8 482.0,117.3 480.4,119.6 C478.8,121.9 478.6,122.0 476.4,125.2 C474.2,128.4 472.8,130.8 471.6,132.6" fill="none" stroke="#111" stroke-width="10.4" stroke-linecap="butt" stroke-linejoin="round"/>
<path d="M482.9,115.9 C482.3,116.8 482.0,117.3 480.4,119.6 C478.8,121.9 478.6,122.0 476.4,125.2 C474.2,128.4 472.1,129.2 471.6,132.6 C471.1,136.0 472.8,135.9 474.5,139.0 C476.2,142.1 476.1,142.2 478.5,145.0 C480.9,147.8 481.6,147.9 484.0,150.4 C486.4,152.9 487.2,151.8 488.0,155.0 C488.8,158.2 487.9,158.8 487.0,163.0 C486.1,167.2 485.8,168.2 484.6,172.0 C483.5,175.8 484.0,175.5 482.4,178.0 C480.8,180.5 480.4,180.3 478.0,182.0 C475.6,183.7 476.0,183.6 473.0,184.6 C470.0,185.6 469.1,185.8 466.0,186.0 C462.9,186.2 463.2,185.8 460.5,185.2 C457.8,184.6 458.4,185.0 455.0,183.5 C451.6,182.0 450.9,181.3 447.0,179.2 C443.1,177.1 443.1,176.5 439.5,175.0 C435.9,173.5 436.1,173.3 432.5,173.2 C428.9,173.1 429.2,173.4 425.0,174.6 C420.8,175.8 417.9,177.0 415.5,177.8" fill="none" stroke="#fff" stroke-width="6.5" stroke-linecap="butt" stroke-linejoin="round"/>
<path d="M482.9,115.9 C482.3,116.8 482.0,117.3 480.4,119.6 C478.8,121.9 478.6,122.0 476.4,125.2 C474.2,128.4 472.8,130.8 471.6,132.6" fill="none" stroke="#fff" stroke-width="7.0" stroke-linecap="butt" stroke-linejoin="round"/>
<g transform="translate(0.9,-1.6)">
<path d="M477.2,116.2 L484.6,121.6 L482.2,125 L474.8,119.6 Z" fill="#fff" stroke="none"/>
<path d="M477.4,115.6 L474.6,119.4 M486.4,121.8 L483.8,125.6" stroke="#111" stroke-width="1.7" stroke-linecap="round"/>
<path d="M474.6,119.4 C477,123.4 481.6,126.2 483.8,125.6" fill="none" stroke="#111" stroke-width="1.5"/>
<ellipse cx="482" cy="118.6" rx="5.6" ry="3.3" transform="rotate(36 482 118.6)" fill="#fff" stroke="#111" stroke-width="1.7"/>
<path d="M480.6,116 C482.6,116.6 484.6,118.2 485.4,119.8" fill="none" stroke="#111" stroke-width="0.9"/>
</g>
<ellipse cx="416.2" cy="177.8" rx="4" ry="5" transform="rotate(17 416.2 177.8)" fill="#fff" stroke="#111" stroke-width="1.7"/>
<path d="M418,173.4 C421,175 421.6,180 419.4,182.4 L417,182.6 C419,180 418.6,175.6 416,173.6 Z" fill="#aaa"/>
<g stroke="#111" stroke-width="1.3" fill="#fff" stroke-linejoin="round"><path d="M395.5,181 L396,185.5 L399,189.5 L403.5,190 L406,186.5 L406,182.5 Z" fill="#999"/><path d="M395.5,180.5 L398.5,177 L403.5,178 L406.2,182 L403.5,186 L398,185.5 Z"/><ellipse cx="400.8" cy="181.6" rx="2.5" ry="2.1" fill="#777" stroke-width="1"/></g>
<path d="M190.5,176.2 C187.7,176.1 186.7,175.5 182.0,175.8 C177.3,176.1 179.5,174.9 176.5,177.0 C173.5,179.1 173.9,177.5 173.0,182.0 C172.1,186.5 174.2,185.2 173.8,190.5 C173.4,195.8 174.9,193.2 171.8,198.0 C168.7,202.8 170.6,199.8 164.5,205.0 C158.4,210.2 157.2,210.7 153.5,213.5" fill="none" stroke="#111" stroke-width="10.8" stroke-linecap="butt" stroke-linejoin="round"/>
<path d="M166.5,203.8 L153,213.8" fill="none" stroke="#111" stroke-width="12.6" stroke-linecap="butt" stroke-linejoin="round"/>
<path d="M190.5,176.2 C187.7,176.1 186.7,175.5 182.0,175.8 C177.3,176.1 179.5,174.9 176.5,177.0 C173.5,179.1 173.9,177.5 173.0,182.0 C172.1,186.5 174.2,185.2 173.8,190.5 C173.4,195.8 174.9,193.2 171.8,198.0 C168.7,202.8 170.6,199.8 164.5,205.0 C158.4,210.2 157.2,210.7 153.5,213.5" fill="none" stroke="#fff" stroke-width="7.0" stroke-linecap="butt" stroke-linejoin="round"/>
<path d="M166.5,203.8 L153,213.8" fill="none" stroke="#fff" stroke-width="8.8" stroke-linecap="butt" stroke-linejoin="round"/>
<path d="M161.5,201.6 L168,211.6 M159,203.2 L165.5,213.2 M156.5,205.2 L163,215.2" stroke="#111" stroke-width="0.9"/>
<ellipse cx="153" cy="213.9" rx="4" ry="6.3" transform="rotate(-37 153 213.9)" fill="#fff" stroke="#111" stroke-width="1.7"/>
<ellipse cx="153.6" cy="213.5" rx="2.4" ry="4.5" transform="rotate(-37 153.6 213.5)" fill="#e8e8e8" stroke="#111" stroke-width="0.7"/>
<ellipse cx="189.8" cy="176.2" rx="2.1" ry="4.6" fill="#fff" stroke="#111" stroke-width="1.5"/><ellipse cx="190.2" cy="176.2" rx="1" ry="3" fill="#444"/>
<path d="M185.2,171.2 L185.2,181" stroke="#111" stroke-width="1"/>
<ellipse cx="199" cy="174.3" rx="2.9" ry="4.7" fill="#fff" stroke="#111" stroke-width="1.8"/>
<ellipse cx="142.5" cy="219.6" rx="3.7" ry="4.7" transform="rotate(-25 142.5 219.6)" fill="#fff" stroke="#111" stroke-width="2.5"/>
<ellipse cx="143" cy="220" rx="1.8" ry="2.8" transform="rotate(-25 143 220)" fill="none" stroke="#eed0d0" stroke-width="0.7"/>
<g stroke="#111" stroke-width="1.3" fill="#fff"><path d="M173.5,232.5 C174,230 178,229.5 180,231 L182,237 C182,240 178,241 176,239.5 Z"/><ellipse cx="178" cy="236" rx="2" ry="3" fill="#666" transform="rotate(-20 178 236)"/><path d="M175,231 L176.5,238" stroke-width="0.7"/></g>
<path d="M370.3,279.5 C372.1,280.6 373.2,281.3 377.0,283.6 C380.8,285.9 381.8,285.9 384.5,288.2 C387.2,290.5 387.0,289.9 387.0,292.3 C387.0,294.7 386.4,294.3 384.5,297.2 C382.6,300.1 382.4,300.0 380.0,303.2 C377.6,306.4 378.3,306.2 375.5,309.2 C372.7,312.2 372.6,311.9 369.5,314.5 C366.4,317.1 366.2,316.9 364.0,319.0 C361.8,321.1 362.1,320.6 361.4,322.5 C360.7,324.4 360.9,323.6 361.2,326.0 C361.5,328.4 361.7,328.4 362.6,331.5 C363.5,334.6 364.2,334.7 364.4,337.5 C364.6,340.3 364.5,339.9 363.4,342.0 C362.3,344.1 363.3,343.4 360.4,345.4 C357.5,347.4 355.9,348.1 352.5,349.6 C349.1,351.1 348.8,350.6 347.5,351.0" fill="none" stroke="#111" stroke-width="12" stroke-linecap="butt" stroke-linejoin="round"/>
<path d="M359.5,346 L347.5,351" fill="none" stroke="#111" stroke-width="13" stroke-linecap="butt" stroke-linejoin="round"/>
<path d="M370.3,279.5 C372.1,280.6 373.2,281.3 377.0,283.6 C380.8,285.9 381.8,285.9 384.5,288.2 C387.2,290.5 387.0,289.9 387.0,292.3 C387.0,294.7 386.4,294.3 384.5,297.2 C382.6,300.1 382.4,300.0 380.0,303.2 C377.6,306.4 378.3,306.2 375.5,309.2 C372.7,312.2 372.6,311.9 369.5,314.5 C366.4,317.1 366.2,316.9 364.0,319.0 C361.8,321.1 362.1,320.6 361.4,322.5 C360.7,324.4 360.9,323.6 361.2,326.0 C361.5,328.4 361.7,328.4 362.6,331.5 C363.5,334.6 364.2,334.7 364.4,337.5 C364.6,340.3 364.5,339.9 363.4,342.0 C362.3,344.1 363.3,343.4 360.4,345.4 C357.5,347.4 355.9,348.1 352.5,349.6 C349.1,351.1 348.8,350.6 347.5,351.0" fill="none" stroke="#fff" stroke-width="8.4" stroke-linecap="butt" stroke-linejoin="round"/>
<path d="M359.5,346 L347.5,351" fill="none" stroke="#fff" stroke-width="9.4" stroke-linecap="butt" stroke-linejoin="round"/>
<path d="M352.5,343 L355.5,355 M355,342 L358,354 M357.5,341 L360.5,353" stroke="#111" stroke-width="0.9"/>
<ellipse cx="347.2" cy="351.2" rx="4.4" ry="6.5" transform="rotate(24 347.2 351.2)" fill="#fff" stroke="#111" stroke-width="1.7"/>
<ellipse cx="347.6" cy="351" rx="2.7" ry="4.6" transform="rotate(24 347.6 351)" fill="#e8e8e8" stroke="#111" stroke-width="0.7"/>
<ellipse cx="370" cy="279.4" rx="3.6" ry="5.6" transform="rotate(-28 370 279.4)" fill="#d8d8d8" stroke="#111" stroke-width="1.6"/>
<path d="M373.2,274.4 C375,276 374.4,282.6 370.8,285.6 M375.2,275.4 C377,277.4 376,283.6 372.8,286.6" fill="none" stroke="#666" stroke-width="0.8"/>
<ellipse cx="335" cy="358" rx="3.7" ry="5.2" transform="rotate(-20 335 358)" fill="#fff" stroke="#111" stroke-width="2.5"/>
<path d="M329.6,357.6 L333,359" stroke="#fff" stroke-width="2"/>
<g stroke="#111" stroke-width="1.1">
<path d="M382.5,309.5 L415.5,309.5"/><path d="M134,190.5 L169,190.5"/><path d="M492,167.5 L521,167.5"/><path d="M445.5,66.5 L486.5,66.5"/>
</g>
<g font-family="Liberation Sans, sans-serif" font-weight="bold" font-size="17" fill="#1646f4">
<path d="M424.2,315.8 L420.9,315.8 L420.9,306.9 C420,308.2 418.8,309.2 417.5,309.8 L417.5,307 C418.6,306.5 419.6,305.8 420.4,305 C421.2,304.2 421.7,303.5 421.9,302.9 L424.2,302.9 Z"/><text x="122" y="196">2</text><text x="523.2" y="173.5">3</text><text x="490.4" y="73.7">4</text>
</g>
</svg>
<svg width="600" height="400" viewBox="0 0 600 400" style="position:absolute;left:0;top:0;mix-blend-mode:multiply">
<g id="wm">
<path d="M11.0,98.0 C15.7,95.7 12.0,96.2 25.0,91.0 C38.0,85.8 30.8,88.2 50.0,82.5 C69.2,76.8 59.2,78.3 82.5,74.0 C105.8,69.7 97.5,70.5 120.0,69.6 C142.5,68.7 131.7,69.5 150.0,71.3 C168.3,73.1 158.3,71.3 175.0,75.0 C191.7,78.7 183.3,76.2 200.0,82.5 C216.7,88.8 214.0,88.7 225.0,94.0 C236.0,99.3 230.3,97.0 233.0,98.5 C230.3,97.3 236.0,99.1 225.0,95.0 C214.0,90.9 216.7,91.3 200.0,86.2 C183.3,81.1 191.7,82.6 175.0,79.7 C158.3,76.8 168.3,78.6 150.0,77.5 C131.7,76.4 142.5,74.6 120.0,76.3 C97.5,78.0 105.8,76.8 82.5,82.7 C59.2,88.6 71.8,85.6 50.0,94.0 C28.2,102.4 28.0,103.3 17.0,108.0 Z" fill="#e5e5e5"/>
<path d="M46.5,32.0 C44.7,41.3 44.2,42.3 41.0,60.0 C37.8,77.7 39.2,68.3 37.0,85.0 C34.8,101.7 35.6,95.0 34.5,110.0 C33.4,125.0 33.5,116.7 33.7,130.0 C33.9,143.3 33.7,136.7 35.0,150.0 C36.3,163.3 35.5,155.0 37.5,170.0 C39.5,185.0 38.2,178.3 41.0,195.0 C43.8,211.7 41.7,203.3 46.0,220.0 C50.3,236.7 47.7,228.3 54.0,245.0 C60.3,261.7 57.3,256.0 65.0,270.0 C72.7,284.0 68.7,277.0 77.0,287.0 C85.3,297.0 79.3,287.3 90.0,300.0 C100.7,312.7 96.3,310.0 109.0,325.0 C121.7,340.0 118.5,334.7 128.0,345.0 C137.5,355.3 134.3,352.3 137.5,356.0 L142,350 C140.7,348.3 145.0,353.3 138.0,345.0 C131.0,336.7 132.7,340.0 121.0,325.0 C109.3,310.0 113.3,314.0 103.0,300.0 C92.7,286.0 98.2,294.3 90.0,283.0 C81.8,271.7 86.2,279.3 78.5,266.0 C70.8,252.7 73.5,258.3 67.0,243.0 C60.5,227.7 64.0,236.0 59.0,220.0 C54.0,204.0 56.2,211.7 52.0,195.0 C47.8,178.3 50.2,185.0 46.5,170.0 C42.8,155.0 44.1,163.3 41.0,150.0 C37.9,136.7 38.4,143.3 37.3,130.0 C36.2,116.7 36.8,125.0 37.7,110.0 C38.6,95.0 38.4,101.7 40.0,85.0 C41.6,68.3 40.3,77.7 42.5,60.0 C44.7,42.3 45.2,41.3 46.5,32.0 Z" fill="#ebebeb"/>
<path d="M48.0,186.0 C63.7,191.0 63.0,192.3 95.0,201.0 C127.0,209.7 104.0,202.0 144.0,212.0 C184.0,222.0 191.3,224.7 215.0,231.0 L214,235 C190.7,229.3 183.7,226.8 144.0,218.0 C104.3,209.2 126.3,216.2 95.0,208.5 C63.7,200.8 65.0,199.5 50.0,195.0 Z" fill="#ebebeb"/>
<path d="M56.0,208.0 C69.0,210.3 69.7,210.3 95.0,215.0 C120.3,219.7 93.7,213.3 132.0,222.0 C170.3,230.7 184.0,234.7 210.0,241.0 C205.0,249.0 205.0,248.7 195.0,265.0 C185.0,281.3 191.7,270.0 180.0,290.0 C168.3,310.0 173.3,305.0 160.0,325.0 C146.7,345.0 146.7,341.7 140.0,350.0 C135.7,346.0 137.0,350.0 127.0,338.0 C117.0,326.0 120.3,330.0 110.0,314.0 C99.7,298.0 105.3,305.3 96.0,290.0 C86.7,274.7 91.7,284.0 82.0,268.0 C72.3,252.0 75.7,262.0 67.0,242.0 C58.3,222.0 59.7,219.3 56.0,208.0 Z" fill="#f1f1f1"/>
<path d="M119.0,372.0 C126.7,364.7 126.7,368.0 142.0,350.0 C157.3,332.0 150.7,341.3 165.0,318.0 C179.3,294.7 173.3,301.0 185.0,280.0 C196.7,259.0 189.7,271.7 200.0,255.0 C210.3,238.3 210.7,238.3 216.0,230.0" fill="none" stroke="#e9e9e9" stroke-width="6"/>
<g font-family="Liberation Sans, sans-serif" font-weight="bold" font-size="67.5" fill="#e5e5e5"><text x="63" y="171" textLength="149" lengthAdjust="spacingAndGlyphs">Alfa-</text><text x="212" y="171" textLength="101.2" lengthAdjust="spacingAndGlyphs">Ser</text><text x="313.2" y="171" textLength="279.4" lengthAdjust="spacingAndGlyphs">vice.com</text></g>
<text x="291.8" y="240" font-family="Liberation Sans, sans-serif" font-weight="bold" font-size="67.5" fill="#e5e5e5" textLength="300.4" lengthAdjust="spacingAndGlyphs">Hurtienne</text>
</g>
</svg>
</body></html>
